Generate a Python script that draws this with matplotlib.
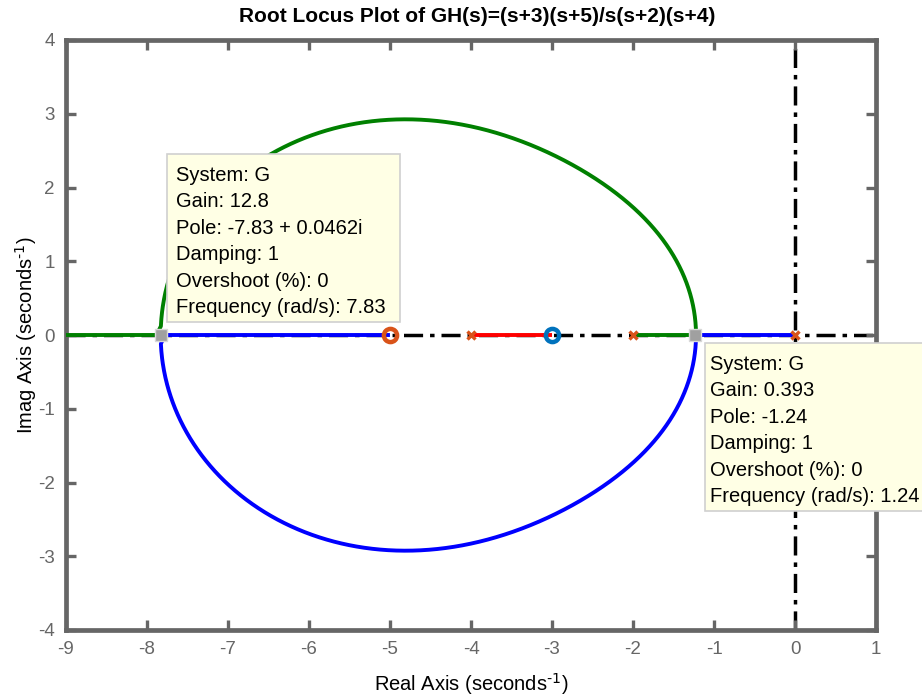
import numpy as np
import matplotlib
matplotlib.use("Agg")
import matplotlib.pyplot as plt
from matplotlib.patches import Rectangle

plt.rcParams['font.family'] = ['Liberation Sans', 'DejaVu Sans']
plt.rcParams['mathtext.default'] = 'regular'
plt.rcParams['axes.unicode_minus'] = False

# ---- system data: GH(s) = (s+3)(s+5) / (s(s+2)(s+4)) ----
poles = [0.0, -2.0, -4.0]
zeros = [-3.0, -5.0]

# data tips
tip_points_x = [-7.83, -1.24]
tip_points_y = [0.0, 0.0]
tip1_lines = ["System: G", "Gain: 12.8", "Pole: -7.83 + 0.0462i", "Damping: 1",
              "Overshoot (%): 0", "Frequency (rad/s): 7.83"]
tip2_lines = ["System: G", "Gain: 0.393", "Pole: -1.24", "Damping: 1",
              "Overshoot (%): 0", "Frequency (rad/s): 1.24"]

xticks = [-9, -8, -7, -6, -5, -4, -3, -2, -1, 0, 1]
yticks = [-4, -3, -2, -1, 0, 1, 2, 3, 4]

# ---- root locus computation ----
den = np.poly(poles)
num = np.poly(zeros)
gains = np.concatenate([[0.0], np.geomspace(1e-4, 1e4, 40000)])
blue, green, red = [], [], []
tol = 1e-7
for k in gains:
    c = den.copy()
    c[1:] = c[1:] + k * num
    r = np.roots(c)
    r = np.where(np.abs(r.imag) < tol, r.real + 0j, r)
    idx_red = None
    for i, z in enumerate(r):
        if abs(z.imag) < 1e-6 and -4.0001 <= z.real <= -2.9999:
            idx_red = i
    if idx_red is None:
        continue
    others = [r[i] for i in range(3) if i != idx_red]
    red.append(r[idx_red])
    a, b = others
    if abs(a.imag) > 1e-6:
        if a.imag < 0:
            blue.append(a); green.append(b)
        else:
            blue.append(b); green.append(a)
    else:
        if a.real > b.real:
            blue.append(a); green.append(b)
        else:
            blue.append(b); green.append(a)
blue = np.array(blue); green = np.array(green); red = np.array(red)

# ---- figure ----
W, H = 922, 698
fig = plt.figure(figsize=(W / 100, H / 100), dpi=100)
ax = fig.add_axes([66 / W, 1 - 630 / H, (876 - 66) / W, (630 - 40) / H])

gray = '#666666'
ax.axhline(0, color='black', lw=2.5, ls=(0, (5.5, 2, 1.3, 2)), zorder=1)
ax.axvline(0, color='black', lw=2.5, ls=(0, (5.5, 2, 1.3, 2)), zorder=1)

ax.plot(blue.real, blue.imag, color='#0000FF', lw=2.8, zorder=3, solid_capstyle='butt')
ax.plot(green.real, green.imag, color='#008000', lw=2.8, zorder=3, solid_capstyle='butt')
ax.plot(red.real, red.imag, color='#FF0000', lw=2.8, zorder=3, solid_capstyle='butt')

ax.plot(poles, np.zeros(len(poles)), ls='none', marker='x', ms=6, mew=2.4,
        color='#D95319', zorder=5)
ax.plot([zeros[1]], [0], ls='none', marker='o', ms=9.5, mew=3.2,
        mfc='none', mec='#D95319', zorder=5)
ax.plot([zeros[0]], [0], ls='none', marker='o', ms=9.5, mew=3.2,
        mfc='none', mec='#0072BD', zorder=5)

ax.plot(tip_points_x, tip_points_y, ls='none', marker='s', ms=9,
        mfc='#A0A0A0', mec='#D8D8D8', mew=1, zorder=6)

ax.set_xlim(-9, 1)
ax.set_ylim(-4, 4)
ax.set_xticks(xticks)
ax.set_yticks(yticks)
ax.tick_params(direction='in', length=7.5, width=2.4, color=gray, labelcolor=gray,
               labelsize=13.5, top=True, right=True, pad=8)
for s in ax.spines.values():
    s.set_color(gray)
    s.set_linewidth(3.4)

ax.set_xlabel(r'Real Axis (seconds$^{\text{-1}}$)', fontsize=14.5, color='black', labelpad=9)
ax.set_ylabel(r'Imag Axis (seconds$^{\text{-1}}$)', fontsize=14.5, color='black', labelpad=-1)
fig.text(477 / W, 1 - 17 / H, 'Root Locus Plot of GH(s)=(s+3)(s+5)/s(s+2)(s+4)',
         ha='center', va='center', fontsize=15, fontweight='bold')

# ---- data tip boxes ----
def tip_box(x0, y0, x1, y1, lines, tx, base0, step):
    rect = Rectangle((x0 / W, 1 - y1 / H), (x1 - x0) / W, (y1 - y0) / H,
                     transform=fig.transFigure, facecolor='#FFFFE5',
                     edgecolor='#D0D0D0', lw=1.2, zorder=10)
    fig.add_artist(rect)
    for i, t in enumerate(lines):
        fig.text(tx / W, 1 - (base0 + i * step) / H, t, ha='left',
                 va='baseline', fontsize=14.5, color='black', zorder=11)

tip_box(167, 154, 400, 322, tip1_lines, 176, 181, 26.4)
tip_box(705, 343, 940, 511, tip2_lines, 710, 370, 26.4)

fig.savefig('out.png', dpi=100)
